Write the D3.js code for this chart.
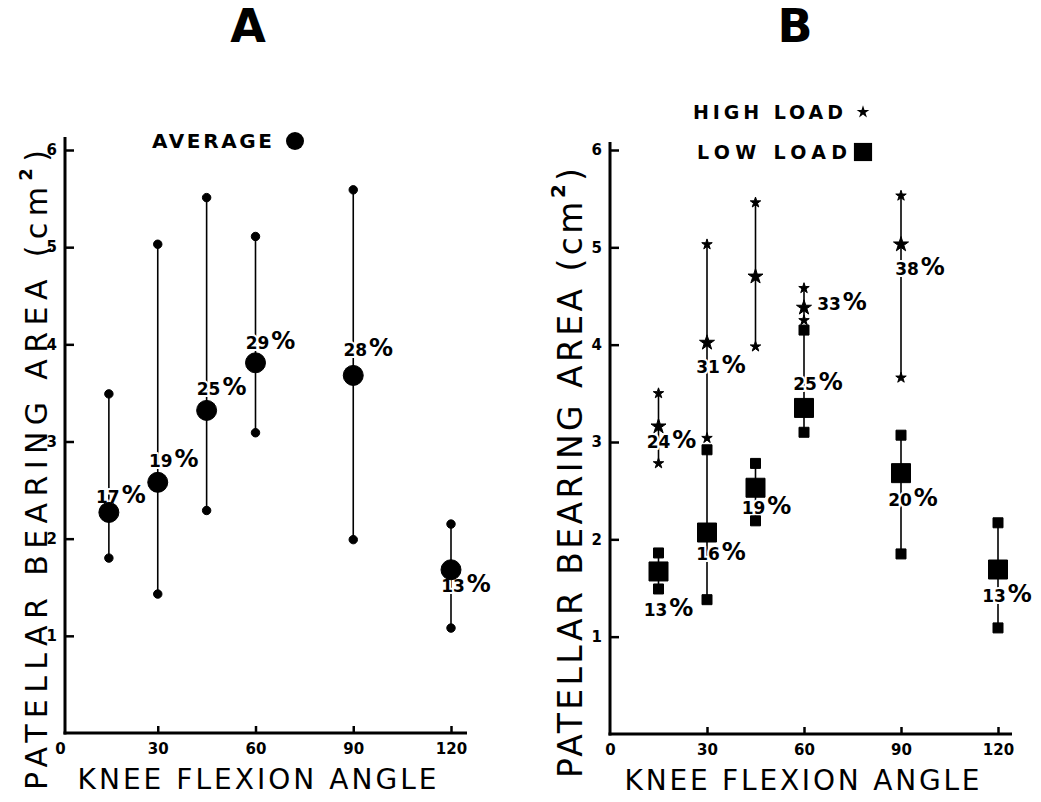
<!DOCTYPE html>
<html>
<head>
<meta charset="utf-8">
<script src="https://cdn.jsdelivr.net/npm/d3@7"></script>
<style>
body { margin: 0; background: #fff; }
svg { display: block; font-family: "DejaVu Sans", sans-serif; }
</style>
</head>
<body>
<script>
// panel A : average bearing area per flexion angle
const anglesA = [15, 30, 45, 60, 90, 120];
const avgMax  = [3.49, 5.03, 5.51, 5.11, 5.59, 2.15];
const avgMean = [2.27, 2.58, 3.32, 3.81, 3.68, 1.68];
const avgMin  = [1.80, 1.43, 2.29, 3.09, 1.99, 1.08];
const avgPct  = ["17%", "19%", "25%", "29%", "28%", "13%"];

// panel B : high load (stars)
const anglesHigh = [15, 30, 45, 60, 90];
const highMax  = [3.50, 5.03, 5.46, 4.58, 5.53];
const highMean = [3.16, 4.02, 4.70, 4.38, 5.03];
const highMin  = [2.78, 3.04, 3.98, 4.25, 3.66];
const highPct  = ["24%", "31%", "", "33%", "38%"];

// panel B : low load (squares)
const anglesLow = [15, 30, 45, 60, 90, 120];
const lowMax  = [1.86, 2.92, 2.78, 4.15, 3.07, 2.17];
const lowMean = [1.67, 2.07, 2.53, 3.35, 2.68, 1.69];
const lowMin  = [1.49, 1.38, 2.19, 3.10, 1.85, 1.09];
const lowPct  = ["13%", "16%", "19%", "25%", "20%", "13%"];

const xTicks = [0, 30, 60, 90, 120];
const yTicks = [1, 2, 3, 4, 5, 6];

const W = 1041, H = 802;
const svg = d3.select("body").append("svg").attr("width", W).attr("height", H);
svg.append("rect").attr("width", W).attr("height", H).attr("fill", "#fff");

const xA = d3.scaleLinear().domain([0, 120]).range([60, 451]);
const yA = d3.scaleLinear().domain([0, 6]).range([733, 150]);
const xB = d3.scaleLinear().domain([0, 120]).range([610, 998]);
const yB = d3.scaleLinear().domain([0, 6]).range([734, 150]);

function drawAxes(x, y, axisX, xEnd, yTop) {
	const g = svg.append("g");
	g.append("g").attr("transform", "translate(" + axisX + ",0)")
		.call(d3.axisLeft(y).tickValues(yTicks).tickFormat(d3.format("d"))
			.tickSizeInner(-9).tickSizeOuter(0).tickPadding(8));
	const xa = g.append("g").attr("transform", "translate(0," + y(0) + ")")
		.call(d3.axisBottom(x).tickValues(xTicks).tickFormat(d3.format("d"))
			.tickSizeInner(-7).tickSizeOuter(0).tickPadding(10));
	g.selectAll(".domain").remove();
	xa.selectAll(".tick").filter(d => d === 0).select("line").remove();
	g.selectAll(".tick line").attr("stroke", "#000").attr("stroke-width", 2.5);
	g.selectAll(".tick text").attr("fill", "#000").attr("font-size", 15)
		.attr("font-weight", "bold").attr("font-family", "DejaVu Sans");
	g.append("line").attr("x1", axisX).attr("x2", axisX).attr("y1", yTop).attr("y2", y(0) + 1.5)
		.attr("stroke", "#000").attr("stroke-width", 3);
	g.append("line").attr("x1", axisX - 1.5).attr("x2", xEnd).attr("y1", y(0)).attr("y2", y(0))
		.attr("stroke", "#000").attr("stroke-width", 3);
}

function yTitle(cx, cy, len, size) {
	const t = svg.append("text")
		.attr("transform", "translate(" + cx + "," + cy + ") rotate(-90)")
		.attr("text-anchor", "middle").attr("dy", "0.36em")
		.attr("font-size", size).attr("textLength", len).attr("lengthAdjust", "spacing");
	t.append("tspan").text("PATELLAR BEARING AREA (cm");
	t.append("tspan").attr("dy", -size * 0.5).attr("font-size", size * 0.6).attr("font-weight", "bold").text("2");
	t.append("tspan").attr("dy", size * 0.5).text(")");
}

function xTitle(cx, by, len) {
	svg.append("text").attr("x", cx).attr("y", by).attr("text-anchor", "middle")
		.attr("font-size", 28).attr("textLength", len).attr("lengthAdjust", "spacing")
		.text("KNEE FLEXION ANGLE");
}

function rangeLines(x, y, ang, lo, hi) {
	svg.append("g").selectAll("line").data(ang).join("line")
		.attr("x1", d => x(d)).attr("x2", d => x(d))
		.attr("y1", (d, i) => y(hi[i])).attr("y2", (d, i) => y(lo[i]))
		.attr("stroke", "#000").attr("stroke-width", 1.6);
}

function pctLabels(x, y, ang, mean, pct, offs) {
	const rows = ang.map((a, i) => ({a: a, v: mean[i], p: pct[i], o: offs[i]})).filter(d => d.p);
	const t = svg.append("g").selectAll("text").data(rows).join("text")
		.attr("x", d => x(d.a) + d.o[0]).attr("y", d => y(d.v) + d.o[1] + 7)
		.attr("text-anchor", "middle").attr("font-weight", "bold")
		.attr("stroke", "#fff").attr("stroke-width", 4).attr("stroke-linejoin", "round")
		.attr("paint-order", "stroke").attr("fill", "#000");
	t.append("tspan").attr("font-size", 17).text(d => d.p.replace("%", ""));
	t.append("tspan").attr("font-size", 24).attr("dx", 2).text("%");
}

function markers(x, y, ang, vals, type, size) {
	svg.append("g").selectAll("path").data(ang).join("path")
		.attr("transform", (d, i) => "translate(" + x(d) + "," + y(vals[i]) + ")")
		.attr("d", d3.symbol().type(type).size(size))
		.attr("fill", "#000").attr("stroke", "#000").attr("stroke-width", 1).attr("stroke-linejoin", "round");
}

// ---- panel A
svg.append("text").attr("x", 248).attr("y", 42).attr("text-anchor", "middle")
	.attr("font-size", 46).attr("font-weight", "bold").text("A");
drawAxes(xA, yA, 65, 467, 137);
yTitle(36, 470, 640, 30);
xTitle(257, 789, 359);
svg.append("text").attr("x", 152).attr("y", 148).attr("font-size", 20).attr("font-weight", "bold")
	.attr("textLength", 120).attr("lengthAdjust", "spacing").text("AVERAGE");
svg.append("circle").attr("cx", 295).attr("cy", 141).attr("r", 9).attr("fill", "#000");

rangeLines(xA, yA, anglesA, avgMin, avgMax);
const offA = [[12, -16], [16, -22], [15, -22], [15, -21], [15, -26], [15, 15]];
pctLabels(xA, yA, anglesA, avgMean, avgPct, offA);
markers(xA, yA, anglesA, avgMax, d3.symbolCircle, 56);
markers(xA, yA, anglesA, avgMin, d3.symbolCircle, 56);
markers(xA, yA, anglesA, avgMean, d3.symbolCircle, 314);

// ---- panel B
svg.append("text").attr("x", 795).attr("y", 42).attr("text-anchor", "middle")
	.attr("font-size", 46).attr("font-weight", "bold").text("B");
drawAxes(xB, yB, 610, 1012, 142);
yTitle(570, 473, 610, 33);
xTitle(802, 790, 355);
svg.append("text").attr("x", 693).attr("y", 119).attr("font-size", 19).attr("font-weight", "bold")
	.attr("textLength", 150).attr("lengthAdjust", "spacing").text("HIGH LOAD");
svg.append("path").attr("transform", "translate(863,112)").attr("d", d3.symbol().type(d3.symbolStar).size(50)).attr("fill", "#000");
svg.append("text").attr("x", 697).attr("y", 159).attr("font-size", 19).attr("font-weight", "bold")
	.attr("textLength", 150).attr("lengthAdjust", "spacing").text("LOW LOAD");
svg.append("path").attr("transform", "translate(863,152)").attr("d", d3.symbol().type(d3.symbolSquare).size(330)).attr("fill", "#000");

rangeLines(xB, yB, anglesHigh, highMin, highMax);
rangeLines(xB, yB, anglesLow, lowMin, lowMax);
const offHigh = [[13, 15], [14, 23], null, [38, -5], [19, 24]];
const offLow = [[10, 38], [14, 20], [11, 19], [14, -25], [12, 26], [9, 25]];
pctLabels(xB, yB, anglesHigh, highMean, highPct, offHigh);
pctLabels(xB, yB, anglesLow, lowMean, lowPct, offLow);
markers(xB, yB, anglesHigh, highMax, d3.symbolStar, 34);
markers(xB, yB, anglesHigh, highMin, d3.symbolStar, 34);
markers(xB, yB, anglesHigh, highMean, d3.symbolStar, 70);
markers(xB, yB, anglesLow, lowMax, d3.symbolSquare, 100);
markers(xB, yB, anglesLow, lowMin, d3.symbolSquare, 100);
markers(xB, yB, anglesLow, lowMean, d3.symbolSquare, 361);
</script>
</body>
</html>
